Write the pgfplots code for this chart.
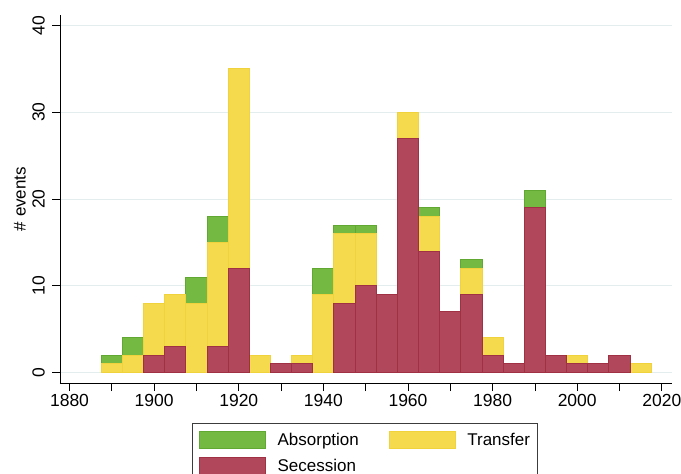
\documentclass[border=0pt]{standalone}
\usepackage{fontspec}
\setmainfont{Liberation Sans}
\usepackage{pgfplots}
\pgfplotsset{compat=1.18}
\definecolor{cA}{RGB}{116,185,66}
\definecolor{cAe}{RGB}{96,168,50}
\definecolor{cT}{RGB}{244,218,76}
\definecolor{cTe}{RGB}{240,210,60}
\definecolor{cS}{RGB}{176,71,91}
\definecolor{cSe}{RGB}{160,48,68}
\definecolor{gridc}{RGB}{228,237,238}
\definecolor{legc}{RGB}{60,60,60}
\pgfplotsset{
  swatch/.style={legend image code/.code={\draw[##1] (0bp,-8.5bp) rectangle (66bp,8.5bp);}}
}
\begin{document}
\begin{tikzpicture}
\begin{axis}[
  scale only axis, width=612bp, height=368bp,
  at={(0,0)}, anchor=south west,
  xmin=1877.75, xmax=2022.4, ymin=-1.2, ymax=41.2,
  axis lines*=left,
  axis line style={black, line width=0.8bp},
  xtick={1880,1900,...,2020}, minor xtick={1890,1910,...,2010},
  ytick={0,10,...,40},
  tick align=outside, major tick length=8bp, minor tick length=8bp,
  every tick/.style={black, line width=0.8bp},
  ymajorgrids, grid style={color=gridc, line width=1bp},
  /pgf/number format/assume math mode=true,
  /pgf/number format/1000 sep={},
  tick label style={font=\fontsize{17.5bp}{20bp}\selectfont},
  xticklabel style={inner sep=3bp},
  yticklabel style={rotate=90, anchor=south, inner sep=7bp},
  ylabel={\# events},
  ylabel style={at={(axis description cs:-0.0654,0.5)}, anchor=center, font=\fontsize{17bp}{20bp}\selectfont},
  ybar, bar width=5, bar shift=0pt,
  legend columns=2,
  legend style={at={(axis description cs:0.2152,-0.1095)}, anchor=north west,
    draw=legc, line width=0.8bp,
    font=\fontsize{17bp}{20bp}\selectfont,
    inner xsep=7bp, inner ysep=7bp, row sep=8bp,
    nodes={inner sep=0bp},
    /tikz/every odd column/.append style={column sep=11.5bp},
    /tikz/every even column/.append style={column sep=30bp},
    cells={anchor=west}},
]
\addplot[fill=cA, draw=cAe, line width=1bp, swatch] coordinates {
(1890,2) (1895,4) (1910,11) (1915,18) (1940,12) (1945,17) (1950,17) (1965,19) (1975,13) (1990,21)};
\addlegendentry{Absorption}
\addplot[fill=cT, draw=cTe, line width=1bp, swatch] coordinates {
(1890,1) (1895,2) (1900,8) (1905,9) (1910,8) (1915,15) (1920,35) (1925,2) (1935,2) (1940,9) (1945,16) (1950,16) (1960,30) (1965,18) (1975,12) (1980,4) (2000,2) (2015,1)};
\addlegendentry{Transfer}
\addplot[fill=cS, draw=cSe, line width=1bp, swatch] coordinates {
(1900,2) (1905,3) (1915,3) (1920,12) (1930,1) (1935,1) (1945,8) (1950,10) (1955,9) (1960,27) (1965,14) (1970,7) (1975,9) (1980,2) (1985,1) (1990,19) (1995,2) (2000,1) (2005,1) (2010,2)};
\addlegendentry{Secession}
\end{axis}
\pgfresetboundingbox
\path[use as bounding box] (-60bp,-91bp) rectangle (621bp,383bp);
\end{tikzpicture}
\end{document}
